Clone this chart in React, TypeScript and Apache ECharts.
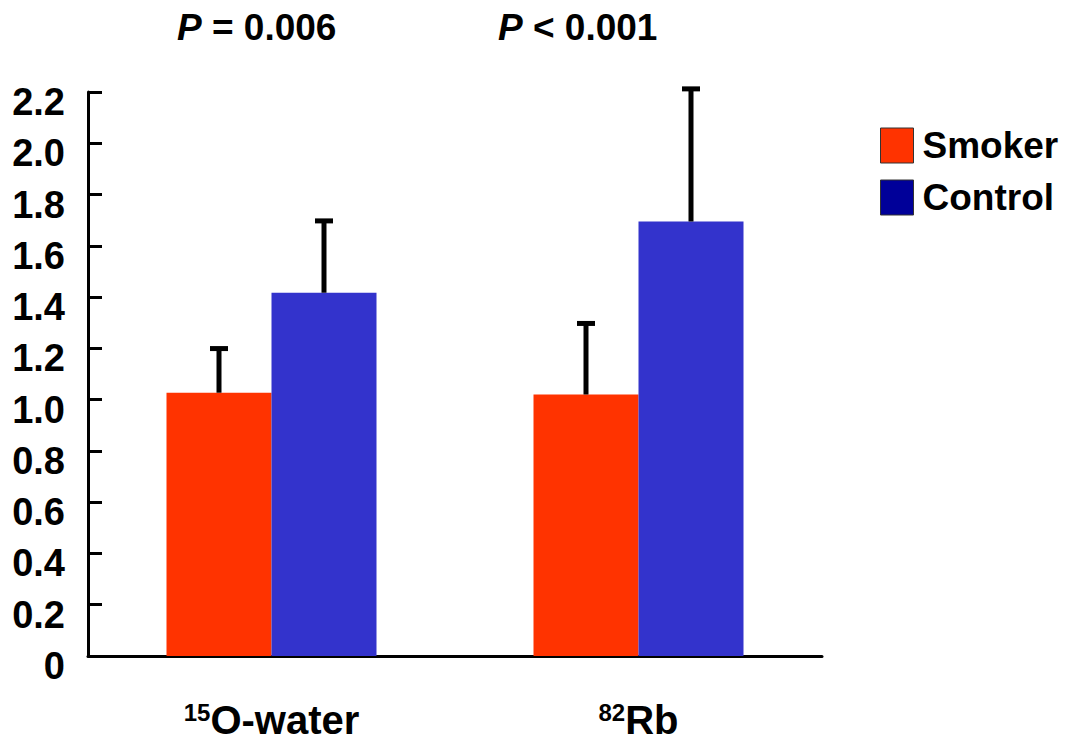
import React, { useEffect, useRef } from "react";
import * as echarts from "echarts";

const categories = ["15O-water", "82Rb"];
const isotopes = ["15", "82"];
const tracers = ["O-water", "Rb"];
const smokerMean = [1.027, 1.02];
const smokerSD = [0.18, 0.285];
const controlMean = [1.417, 1.695];
const controlSD = [0.288, 0.525];
const pLabels = ["= 0.006", "< 0.001"];
const yTicks = [0, 2.2, 0.2];

const FONT = "'Liberation Sans', Arial, Helvetica, sans-serif";

export default function App() {
  const ref = useRef<HTMLDivElement>(null);
  useEffect(() => {
    if (!ref.current) return;
    const chart = echarts.init(ref.current, null, { renderer: "svg" });
    const errSeries = (name: string, means: number[], sds: number[], offset: number) => ({
      type: "custom",
      name: name + "-err",
      z: 5,
      silent: true,
      data: means.map((m, i) => [i, m, m + sds[i]]),
      renderItem: (params: any, api: any) => {
        const idx = api.value(0);
        const base = api.coord([idx, api.value(1)]);
        const top = api.coord([idx, api.value(2)]);
        const x = base[0] + offset;
        return {
          type: "group",
          children: [
            { type: "line", shape: { x1: x, y1: base[1], x2: x, y2: top[1] + 2 }, style: { stroke: "#000", lineWidth: 5 } },
            { type: "line", shape: { x1: x - 9, y1: top[1] + 2, x2: x + 9, y2: top[1] + 2 }, style: { stroke: "#000", lineWidth: 5 } },
          ],
        };
      },
    });
    const pText = (left: number, label: string) => ({
      type: "text",
      left,
      top: 9,
      style: {
        text: `{i|P} ${label}`,
        fontSize: 37,
        fontWeight: "bold",
        fill: "#000",
        fontFamily: FONT,
        rich: { i: { fontSize: 37, fontStyle: "italic", fontWeight: "bold", fontFamily: FONT } },
      },
    });
    chart.setOption({
      animation: false,
      backgroundColor: "#fff",
      textStyle: { fontFamily: FONT },
      grid: { left: 88, right: 262, top: 92, bottom: 89, containLabel: false },
      legend: {
        left: 875,
        top: 122,
        orient: "vertical",
        itemWidth: 33,
        itemHeight: 35,
        itemGap: 15,
        icon: "rect",
        textStyle: { fontSize: 37, fontWeight: "bold", color: "#000", fontFamily: FONT, padding: [0, 0, 0, 4] },
        data: [
          { name: "Smoker", itemStyle: { color: "#FF3300", borderColor: "#333", borderWidth: 1 } },
          { name: "Control", itemStyle: { color: "#000099", borderColor: "#333", borderWidth: 1 } },
        ],
      },
      xAxis: {
        type: "category",
        data: categories,
        axisLine: { lineStyle: { color: "#000", width: 3 } },
        axisTick: { inside: true, length: 14, lineStyle: { color: "#000", width: 3 } },
        axisLabel: {
          margin: 44,
          formatter: (_v: string, i: number) => `{sup|${isotopes[i]}}{base|${tracers[i]}}`,
          rich: {
            sup: { fontSize: 24, fontWeight: "bold", color: "#000", fontFamily: FONT, padding: [0, 0, 15, 0] },
            base: { fontSize: 40, fontWeight: "bold", color: "#000", fontFamily: FONT },
          },
        },
      },
      yAxis: {
        type: "value",
        min: yTicks[0],
        max: yTicks[1],
        interval: yTicks[2],
        splitLine: { show: false },
        axisLine: { show: true, lineStyle: { color: "#000", width: 3 } },
        axisTick: { show: true, inside: true, length: 14, lineStyle: { color: "#000", width: 3 } },
        axisLabel: {
          margin: 23,
          fontSize: 38,
          fontWeight: "bold",
          color: "#000",
          fontFamily: FONT,
          verticalAlign: "top",
          lineHeight: 20,
          formatter: (v: number) => (v === 0 ? "0" : v.toFixed(1)),
        },
      },
      series: [
        { type: "bar", name: "Smoker", data: smokerMean, barWidth: 105, barGap: "0%", itemStyle: { color: "#FF3300" } },
        { type: "bar", name: "Control", data: controlMean, barWidth: 105, barGap: "0%", itemStyle: { color: "#3333CC" } },
        errSeries("Smoker", smokerMean, smokerSD, -52.5),
        errSeries("Control", controlMean, controlSD, 52.5),
      ],
      graphic: [pText(177, pLabels[0]), pText(498, pLabels[1])],
    });
    return () => chart.dispose();
  }, []);
  return <div ref={ref} style={{ width: 1084, height: 745, position: "absolute", left: 0, top: 0 }} />;
}
